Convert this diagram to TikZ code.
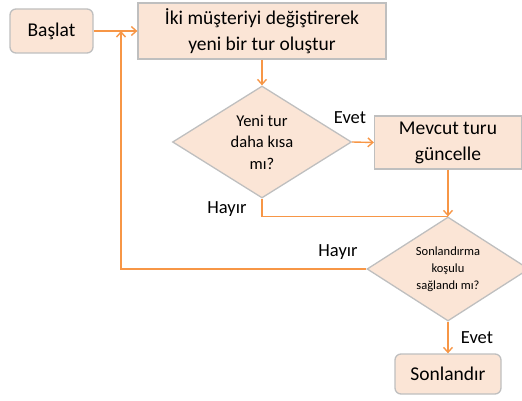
\documentclass[tikz,border=0pt]{standalone}
\usepackage{fontspec}
\setmainfont{Carlito}
\usetikzlibrary{shapes.geometric,arrows.meta}
\definecolor{peach}{RGB}{251,229,214}
\definecolor{edgegray}{RGB}{191,191,191}
\definecolor{orangeline}{RGB}{247,150,70}
\begin{document}
\begin{tikzpicture}[x=1pt,y=-1pt,
  boxbase/.style={draw=edgegray,fill=peach,line width=1.3pt,inner sep=0pt,align=center},
  roundbox/.style={boxbase,rounded corners=6pt,font=\fontsize{19.5}{26}\selectfont},
  rectbox/.style={boxbase,font=\fontsize{19.5}{26}\selectfont},
  decision/.style={boxbase,diamond,aspect=1.6},
  flow/.style={draw=orangeline,line width=1.4pt,-{Straight Barb[length=5pt,width=9pt]}},
  plain/.style={draw=orangeline,line width=1.4pt},
  lbl/.style={font=\fontsize{18.5}{22}\selectfont,inner sep=0pt}
]
\useasboundingbox (0,0) rectangle (522,401);
\begin{scope}
\clip (0,0) rectangle (522,401);
\node[roundbox,minimum width=83pt,minimum height=44pt] (baslat) at (51.5,31) {Başlat};
\node[rectbox,minimum width=248pt,minimum height=56pt] (olustur) at (262,31) {İki müşteriyi değiştirerek\\yeni bir tur oluştur};
\node[decision,minimum width=179pt,minimum height=112pt,font=\fontsize{16.5}{21.5}\selectfont] (d1) at (262,142) {Yeni tur\\daha kısa\\mı?};
\node[rectbox,minimum width=147pt,minimum height=53pt] (mevcut) at (448,142.5) {Mevcut turu\\güncelle};
\node[decision,minimum width=162pt,minimum height=104pt,font=\fontsize{12.5}{17}\selectfont] (d2) at (448,269) {Sonlandırma\\koşulu\\sağlandı mı?};
\node[roundbox,minimum width=106pt,minimum height=40pt] (son) at (448,374) {Sonlandır};
\end{scope}
\coordinate (j) at (121,31);
\draw[flow] (baslat.east) -- (olustur.west);
\draw[flow] (olustur.south) -- (d1.north);
\draw[flow] (d1.east) -- (mevcut.west);
\node[lbl] (evet1) at (350,118) {Evet};
\draw[flow] (mevcut.south) -- (d2.north);
\draw[plain] (d1.south) |- (d2.north);
\node[lbl] (hayir1) at (227,209) {Hayır};
\draw[flow] (d2.west) -| (j);
\node[lbl] (hayir2) at (338,252) {Hayır};
\draw[flow] (d2.south) -- (son.north);
\node[lbl] (evet2) at (477,338) {Evet};
\end{tikzpicture}
\end{document}
